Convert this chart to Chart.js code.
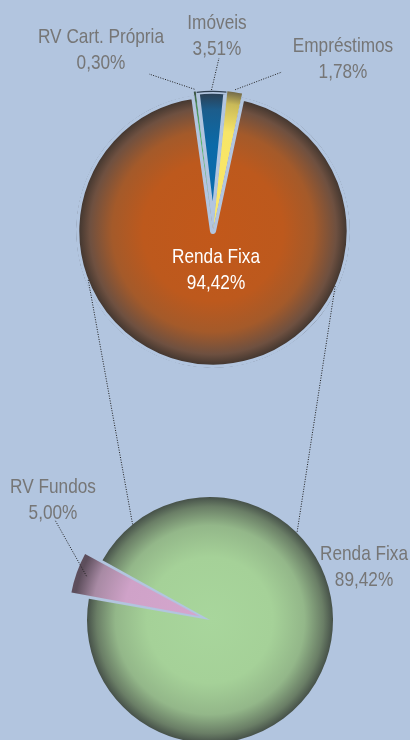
<!DOCTYPE html>
<html>
<head>
<meta charset="utf-8">
<script src="https://cdn.jsdelivr.net/npm/chart.js@4/dist/chart.umd.min.js"></script>
<style>
	html, body { margin: 0; padding: 0; overflow: hidden; background: #b2c5df; width: 410px; height: 740px; }
	canvas { position: absolute; left: 0; top: 0; }
</style>
</head>
<body>
<canvas id="topPie" width="410" height="740"></canvas>
<canvas id="bottomPie" width="410" height="740"></canvas>
<script>
// carteira total
const topLabels = ['RV Cart. Própria', 'Imóveis', 'Empréstimos', 'Renda Fixa'];
const topValues = [0.30, 3.51, 1.78, 94.42];
// abertura da renda fixa
const bottomLabels = ['RV Fundos', 'Renda Fixa'];
const bottomValues = [5.00, 89.42];

const FONT = '21px "Liberation Sans", Arial, sans-serif';
const NARROW = 0.82;	// no narrow font installed, squeeze the normal one
const GREY = '#767676';

// gradient stops per slice (center -> edge)
const topShades = [
	[[0, '#5cba70'], [0.7, '#58b46c'], [0.9, '#4d8a5a'], [1, '#384840']],
	[[0, '#0a6db0'], [0.6, '#0a6aa8'], [0.85, '#1c5d8c'], [1, '#2e3846']],
	[[0, '#fbe866'], [0.7, '#f7e567'], [0.9, '#c9b958'], [1, '#686048']],
	[[0, '#c2581a'], [0.5, '#bd591d'], [0.72, '#a45a2a'], [0.88, '#6e5040'], [1, '#2b2927']]
];
const bottomShades = [
	[[0, '#d4a6cd'], [0.6, '#cfa2c8'], [0.85, '#a88aa4'], [1, '#5d4e5c']],
	[[0, '#a8d69c'], [0.5, '#a5d198'], [0.75, '#93b789'], [0.9, '#6a7e66'], [1, '#3b4340']]
];

function pct(v) {
	return v.toFixed(2).replace('.', ',') + '%';
}

function shade(list) {
	return (c) => {
		const chart = c.chart, a = chart.chartArea;
		const stops = list[c.dataIndex];
		if (!a) return stops[0][1];
		const cx = (a.left + a.right) / 2, cy = (a.top + a.bottom) / 2;
		const r = c.dataset.radius + 3;
		const g = chart.ctx.createRadialGradient(cx, cy, 0, cx, cy, r);
		stops.forEach(s => g.addColorStop(s[0], s[1]));
		return g;
	};
}

function dotted(ctx, x1, y1, x2, y2) {
	ctx.beginPath();
	ctx.moveTo(x1, y1);
	ctx.lineTo(x2, y2);
	ctx.stroke();
}

function narrowText(ctx, text, x, y) {
	ctx.save();
	ctx.translate(x, y);
	ctx.scale(NARROW, 1);
	ctx.fillText(text, 0, 0);
	ctx.restore();
}

// labels + leader lines, line start taken from the arc itself
function labelPlugin(items) {
	return {
		id: 'sliceLabels',
		afterDatasetsDraw(chart) {
			const ctx = chart.ctx;
			const arcs = chart.getDatasetMeta(0).data;
			const ds = chart.data.datasets[0];
			ctx.save();
			ctx.strokeStyle = '#1e1e1e';
			ctx.lineWidth = 1;
			ctx.setLineDash([1, 1.5]);
			items.forEach(it => {
				if (!it.end) return;
				const arc = arcs[it.index];
				const mid = (arc.startAngle + arc.endAngle) / 2;
				const r = arc.outerRadius + it.gap;
				dotted(ctx, arc.x + Math.cos(mid) * r, arc.y + Math.sin(mid) * r, it.end[0], it.end[1]);
			});
			ctx.setLineDash([]);
			ctx.font = FONT;
			ctx.textAlign = 'center';
			items.forEach(it => {
				ctx.fillStyle = it.color;
				narrowText(ctx, chart.data.labels[it.index], it.x, it.y);
				narrowText(ctx, pct(ds.data[it.index]), it.x, it.y + 26);
			});
			ctx.restore();
		}
	};
}

function pieOptions(rotation, padding) {
	return {
		responsive: false,
		animation: false,
		events: [],
		rotation: rotation,
		layout: { padding: padding },
		plugins: { legend: { display: false }, tooltip: { enabled: false } }
	};
}

const topChart = new Chart(document.getElementById('topPie'), {
	type: 'pie',
	data: {
		labels: topLabels,
		datasets: [{
			data: topValues,
			radius: 137,
			clip: false,
			backgroundColor: shade(topShades),
			borderColor: '#b2c5df',
			borderWidth: [0, 3, 0, 3],
			borderAlign: 'inner',
			offset: [8, 8, 8, 0]
		}]
	},
	options: pieOptions(-8, { left: 16, right: 0, top: 0, bottom: 278 }),
	plugins: [labelPlugin([
		{ index: 0, x: 101, y: 43, color: GREY, gap: 6, end: [149, 74] },
		{ index: 1, x: 217, y: 29, color: GREY, gap: 4, end: [219, 58] },
		{ index: 2, x: 343, y: 52, color: GREY, gap: 6, end: [282, 72] },
		{ index: 3, x: 216, y: 263, color: '#ffffff' }
	])]
});

// dotted lines joining the Renda Fixa slice to its breakdown
const joinAngles = [[158.6, 231], [24.3, 315]];
const joinPlugin = {
	id: 'joinLines',
	beforeDatasetsDraw(chart) {
		const t = topChart.getDatasetMeta(0).data[3];
		const b = chart.getDatasetMeta(0).data[1];
		const ctx = chart.ctx;
		const rt = t.outerRadius - 3, rb = b.outerRadius;
		ctx.save();
		ctx.strokeStyle = '#1e1e1e';
		ctx.lineWidth = 1;
		ctx.setLineDash([1, 1.5]);
		joinAngles.forEach(([a1, a2]) => {
			const p = a1 * Math.PI / 180, q = a2 * Math.PI / 180;
			dotted(ctx, t.x + Math.cos(p) * rt, t.y + Math.sin(p) * rt, b.x + Math.cos(q) * rb, b.y + Math.sin(q) * rb);
		});
		ctx.restore();
	}
};

const bottomChart = new Chart(document.getElementById('bottomPie'), {
	type: 'pie',
	data: {
		labels: bottomLabels,
		datasets: [{
			data: bottomValues,
			radius: 123,
			clip: false,
			backgroundColor: shade(bottomShades),
			borderWidth: 0,
			offset: [44, 0]
		}]
	},
	options: pieOptions(280, { left: 10, right: 0, top: 500, bottom: 0 }),
	plugins: [joinPlugin, labelPlugin([
		{ index: 0, x: 53, y: 493, color: GREY, gap: 8, end: [55, 520] },
		{ index: 1, x: 364, y: 560, color: GREY }
	])]
});
</script>
</body>
</html>
